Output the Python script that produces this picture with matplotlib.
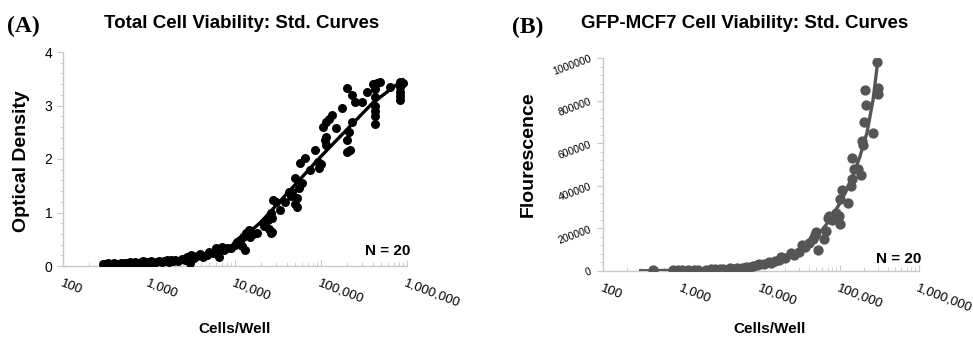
import numpy as np
import matplotlib
matplotlib.use("Agg")
import matplotlib.pyplot as plt
from matplotlib.ticker import FixedLocator, MultipleLocator, LogLocator, NullFormatter

plt.rcParams['font.family'] = ['Liberation Sans', 'DejaVu Sans']

# ---- panel A : total cell viability (optical density) ----
a_cells = [290, 310, 330, 350, 370, 390, 410, 440, 470, 500, 530, 560, 600, 640, 680, 720, 760, 800,
           850, 900, 950, 1000, 1050, 1100, 1200, 1300, 1400, 1500, 1600, 1700, 1800, 1900, 2000, 2200,
           2400, 2600, 2800, 3000, 3000, 3100, 3300, 3600, 3900, 4300, 4700, 5000, 5500, 6000, 6200, 6600,
           7000, 7500, 8000, 9000, 10000, 10500, 11500, 12000, 12500, 13000, 13500, 14000, 14500, 15000,
           16000, 18000, 21000, 22000, 24000, 25000, 26000, 26000, 27000, 27000, 27500, 30000, 33000,
           38000, 42000, 45000, 46000, 50000, 50000, 52000, 52000, 55000, 57000, 60000, 65000, 75000,
           85000, 93000, 95000, 100000, 105000, 110000, 115000, 115000, 115000, 125000, 135000, 150000,
           175000, 200000, 200000, 200000, 210000, 220000, 230000, 230000, 250000, 300000, 340000, 400000,
           420000, 420000, 420000, 420000, 420000, 420000, 450000, 480000, 640000, 830000, 830000, 830000,
           830000, 830000, 900000]
a_od = [.04, .03, .05, .03, .04, .05, .03, .04, .05, .04, .06, .05, .07, .05, .08, .06, .04, .07,
        .09, .06, .08, .07, .09, .06, .08, .10, .07, .09, .12, .08, .11, .09, .12, .10,
        .14, .12, .17, .05, .12, .20, .15, .18, .23, .16, .21, .26, .24, .33, .28, .16,
        .36, .30, .34, .33, .40, .45, .49, .38, .55, .30, .62, .58, .67, .55,
        .60, .62, .80, .75, .86, .70, .61, .99, .64, .90, 1.23, 1.20, 1.05,
        1.20, 1.38, 1.30, 1.38, 1.64, 1.15, 1.27, 1.10, 1.45, 1.92, 1.55, 2.02, 1.80,
        2.17, 1.94, 1.83, 1.90, 2.60, 2.35, 2.41, 2.26, 2.69, 2.75, 2.82, 2.58,
        2.95, 3.33, 2.36, 2.13, 2.50, 2.17, 3.20, 2.69, 3.07, 3.07, 3.25, 3.40,
        3.30, 3.15, 3.00, 2.90, 2.80, 2.66, 3.42, 3.44, 3.35, 3.44, 3.35, 3.25,
        3.18, 3.10, 3.42]
a_fit_cells = [300, 1000, 3000, 5000, 10000, 20000, 50000, 100000, 200000, 400000, 900000]
a_fit_od = [0.03, 0.07, 0.15, 0.22, 0.40, 0.82, 1.52, 2.05, 2.55, 3.05, 3.48]

# ---- panel B : GFP-MCF7 viability (fluorescence) ----
b_cells = [430, 780, 850, 900, 1000, 1200, 1400, 1600, 2000, 2300, 2600, 3000, 3300, 4000, 4500, 5000,
           5800, 6500, 7200, 8000, 9000, 9500, 11000, 12500, 13500, 15000, 17000, 18000, 20000, 24000,
           26000, 30000, 33000, 36000, 40000, 45000, 48000, 50000, 52000, 62000, 66000, 70000, 73000,
           80000, 90000, 97000, 100000, 100000, 105000, 125000, 138000, 140000, 142000, 150000, 170000,
           185000, 190000, 195000, 200000, 205000, 215000, 260000, 290000, 300000, 305000]
b_fluor = [6000, 3000, 2000, 4000, 3500, 4000, 5000, 6000, 5000, 8000, 9000, 10000, 9000, 12000, 11000,
           14000, 15000, 20000, 19000, 24000, 26000, 32000, 35000, 42000, 38000, 45000, 52000, 65000,
           60000, 85000, 75000, 90000, 120000, 115000, 130000, 150000, 170000, 185000, 100000, 150000,
           190000, 250000, 260000, 240000, 270000, 260000, 220000, 340000, 380000, 320000, 400000,
           430000, 530000, 480000, 480000, 450000, 610000, 590000, 700000, 850000, 780000, 650000,
           980000, 860000, 830000]
b_fit_cells = [300, 1000, 3000, 10000, 20000, 30000, 45000, 59000, 74000, 100000, 134000, 178000,
               219000, 262000, 302000]
b_fit_fluor = [1000, 3300, 10000, 32000, 65000, 100000, 148000, 192000, 239000, 319000, 413000, 535000,
               648000, 803000, 990000]

x_ticks = [100, 1000, 10000, 100000, 1000000]
x_labels = ['100', '1,000', '10,000', '100,000', '1,000,000']

W, H = 973, 339
fig = plt.figure(figsize=(W / 100, H / 100), dpi=100)

axA = fig.add_axes([63 / W, 1 - 266 / H, 344 / W, 214 / H])
axB = fig.add_axes([603 / W, 1 - 271 / H, 316 / W, 213 / H])

axA.scatter(a_cells, a_od, s=42, color='black', zorder=3, linewidths=0)
axA.plot(a_fit_cells, a_fit_od, color='black', lw=2.4, zorder=4)
axB.scatter(b_cells, b_fluor, s=55, color='#555555', zorder=3, linewidths=0)
axB.plot(b_fit_cells, b_fit_fluor, color='#555555', lw=2.4, zorder=4)

for ax in (axA, axB):
    ax.set_xscale('log')
    ax.set_xlim(100, 1000000)
    for s in ('top', 'right'):
        ax.spines[s].set_visible(False)
    for s in ('left', 'bottom'):
        ax.spines[s].set_color('#c8c8c8')
        ax.spines[s].set_linewidth(1.0)
    ax.xaxis.set_major_locator(FixedLocator(x_ticks))
    ax.xaxis.set_minor_locator(LogLocator(base=10, subs=np.arange(2, 10)))
    ax.xaxis.set_minor_formatter(NullFormatter())
    ax.set_xticklabels(x_labels, rotation=-21, ha='left', va='top', rotation_mode='anchor', fontsize=9.5)
    ax.tick_params(axis='x', which='both', direction='in', color='#c8c8c8', pad=8)
    ax.tick_params(axis='x', which='major', length=4)
    ax.tick_params(axis='x', which='minor', length=3)
    ax.tick_params(axis='y', which='both', direction='out', color='#c8c8c8')
    ax.tick_params(axis='y', which='major', length=4)
    ax.tick_params(axis='y', which='minor', length=2.5)

axA.set_ylim(0, 4)
axA.yaxis.set_major_locator(MultipleLocator(1))
axA.yaxis.set_minor_locator(MultipleLocator(0.2))
axA.tick_params(axis='y', labelsize=10)
axA.set_ylabel('Optical Density', fontsize=14, fontweight='bold')
axA.yaxis.set_label_coords((30 - 63) / 344, (266 - 161) / 214)
axA.text(1.01, 0.07, 'N = 20', transform=axA.transAxes, ha='right', va='center',
         fontsize=11, fontweight='bold')

axB.set_ylim(0, 1000000)
axB.yaxis.set_major_locator(MultipleLocator(200000))
axB.yaxis.set_minor_locator(MultipleLocator(40000))
axB.yaxis.set_major_formatter(plt.FuncFormatter(lambda v, p: '%d' % v))
for lab in axB.get_yticklabels():
    lab.set_rotation(20)
    lab.set_fontsize(7.5)
axB.set_ylabel('Flourescence', fontsize=14, fontweight='bold')
axB.yaxis.set_label_coords((537 - 603) / 316, (271 - 154) / 213)
axB.text(1.006, 0.056, 'N = 20', transform=axB.transAxes, ha='right', va='center',
         fontsize=11, fontweight='bold')

# titles, axis names and panel letters placed in figure pixels
fig.text(242 / W, 1 - 23 / H, 'Total Cell Viability: Std. Curves', fontsize=13.5, fontweight='bold',
         ha='center', va='center')
fig.text(745 / W, 1 - 23 / H, 'GFP-MCF7 Cell Viability: Std. Curves', fontsize=13.5, fontweight='bold',
         ha='center', va='center')
fig.text(235 / W, 1 - 329 / H, 'Cells/Well', fontsize=11, fontweight='bold', ha='center', va='center')
fig.text(770 / W, 1 - 329 / H, 'Cells/Well', fontsize=11, fontweight='bold', ha='center', va='center')
fig.text(7 / W, 1 - 26 / H, '(A)', fontsize=17, fontweight='bold', family='Liberation Serif', va='center')
fig.text(512 / W, 1 - 27 / H, '(B)', fontsize=17, fontweight='bold', family='Liberation Serif', va='center')

fig.savefig('out.png', dpi=100)
